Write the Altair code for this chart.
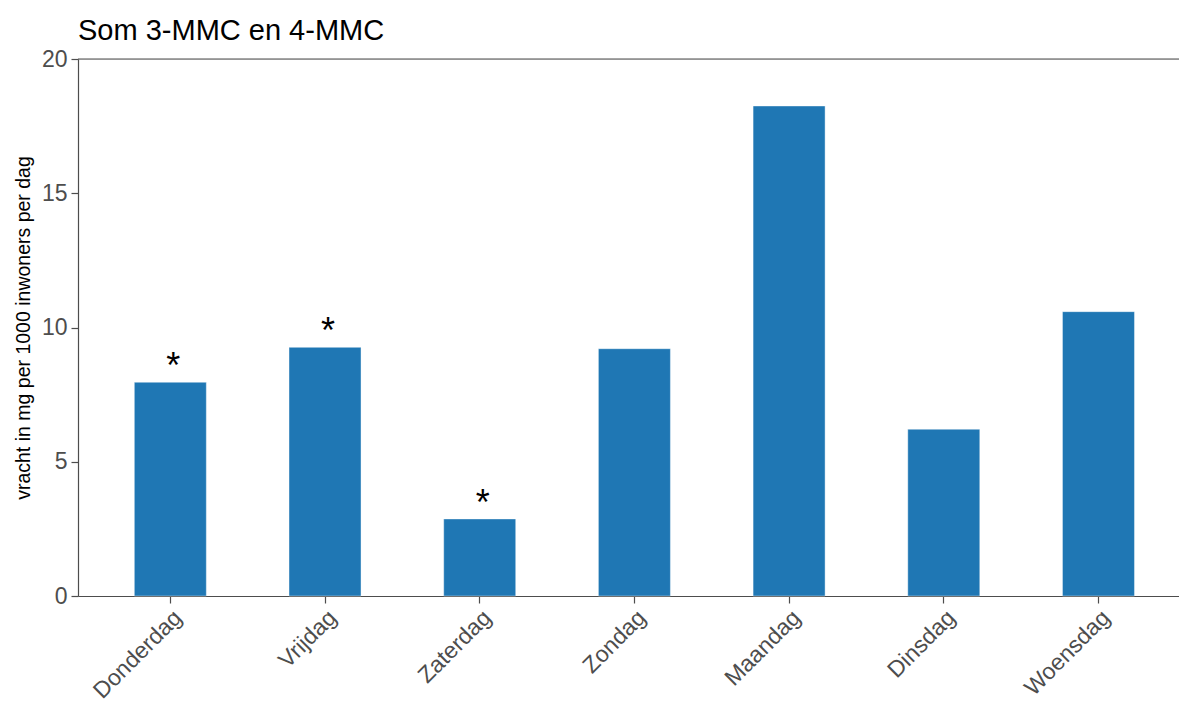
import altair as alt
import pandas as pd

# Daily load of 3-MMC + 4-MMC (mg per 1000 inhabitants per day)
days = ["Donderdag", "Vrijdag", "Zaterdag", "Zondag", "Maandag", "Dinsdag", "Woensdag"]
values = [7.96, 9.26, 2.87, 9.21, 18.25, 6.21, 10.59]
flags = ["*", "*", "*", "", "", "", ""]

df = pd.DataFrame({"dag": days, "vracht": values, "flag": flags})

FONT = "Liberation Sans"
AXIS_GREY = "#4d4d4d"

x = alt.X(
    "dag:N",
    sort=days,
    title=None,
    scale=alt.Scale(paddingInner=0.5346, paddingOuter=0.326, align=0.5585),
    axis=alt.Axis(
        labelAngle=-45,
        labelAlign="right",
        labelBaseline="top",
        labelFontSize=23,
        labelColor=AXIS_GREY,
        labelFont=FONT,
        labelPadding=3,
        tickSize=7,
        tickColor=AXIS_GREY,
        domainColor=AXIS_GREY,
        tickWidth=1.2,
        domainWidth=1.2,
    ),
)

y = alt.Y(
    "vracht:Q",
    title="vracht in mg per 1000 inwoners per dag",
    scale=alt.Scale(domain=[0, 20], nice=False),
    axis=alt.Axis(
        values=[0, 5, 10, 15, 20],
        grid=False,
        labelFontSize=23,
        labelColor=AXIS_GREY,
        labelFont=FONT,
        labelPadding=4,
        tickSize=7,
        tickColor=AXIS_GREY,
        domainColor=AXIS_GREY,
        tickWidth=1.2,
        domainWidth=1.2,
        titleFontSize=19.5,
        titleFont=FONT,
        titleFontWeight="normal",
        titleColor="black",
        titlePadding=8,
    ),
)

base = alt.Chart(df)

bars = base.mark_bar(
    color="#1f77b4", stroke="white", strokeWidth=0.8, strokeOpacity=0.5
).encode(x=x, y=y)

# significance markers above the flagged days
stars = base.mark_text(
    font=FONT, fontSize=36, baseline="alphabetic", dx=3, dy=-4, color="black"
).encode(x=alt.X("dag:N", sort=days), y="vracht:Q", text="flag:N")

top_line = (
    alt.Chart(pd.DataFrame({"top": [20]}))
    .mark_rule(color=AXIS_GREY, strokeWidth=1.2)
    .encode(y="top:Q")
)

chart = (
    alt.layer(bars, stars, top_line)
    .properties(
        width=1101,
        height=537,
        title=alt.TitleParams(
            "Som 3-MMC en 4-MMC",
            anchor="start",
            frame="group",
            font=FONT,
            fontSize=29,
            fontWeight="normal",
            color="black",
            baseline="alphabetic",
            offset=12,
            dy=33,
        ),
        autosize=alt.AutoSizeParams(type="none"),
        padding={"left": 78, "top": 59, "right": 0, "bottom": 106},
    )
    .configure_view(stroke=None)
    .configure(background="white")
)

chart.save("out.html", embed_options={"renderer": "svg", "actions": False})
